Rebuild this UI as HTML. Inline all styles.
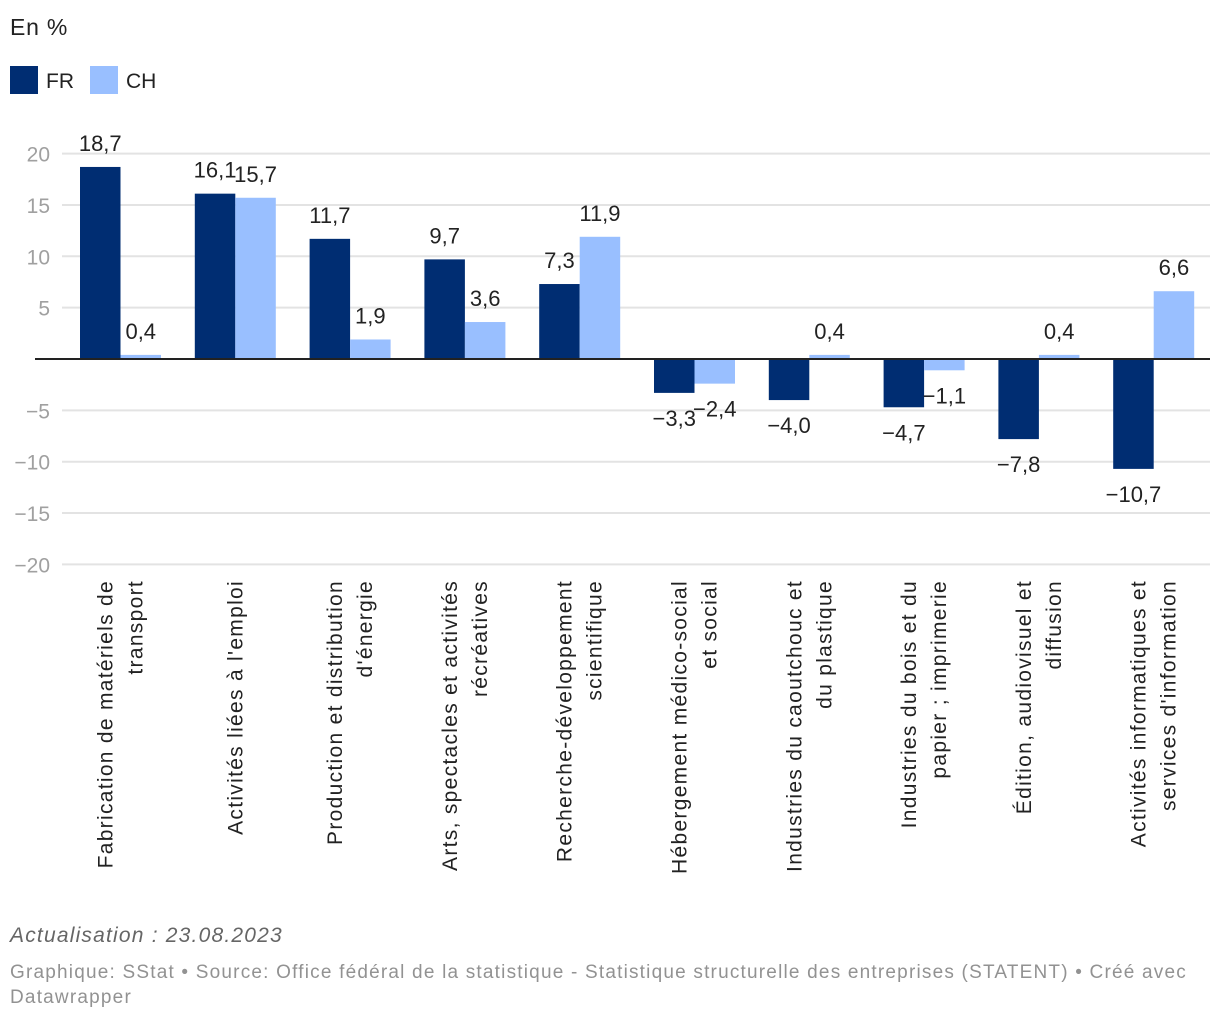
<!DOCTYPE html>
<html><head><meta charset="utf-8">
<style>
body{margin:0;background:#fff;font-family:"Liberation Sans",sans-serif;}
#wrap{position:relative;width:1220px;height:1020px;overflow:hidden;}
</style></head>
<body>
<div id="wrap">
<svg id="chart" width="1220" height="1020" style="font-family:'Liberation Sans',sans-serif">
<text x="10" y="35" font-size="23" letter-spacing="0.8" fill="#222">En %</text>
<rect x="10" y="66" width="28" height="28" fill="#002d72"/>
<text x="46" y="88" font-size="21" fill="#222">FR</text>
<rect x="90" y="66" width="28" height="28" fill="#99bfff"/>
<text x="126" y="88" font-size="21" fill="#222">CH</text>
<g id="grid"></g><g id="bars"></g><g id="labels"></g>
<text x="10" y="942" font-size="21" letter-spacing="1.2" font-style="italic" fill="#666">Actualisation : 23.08.2023</text>
<text x="10" y="978" font-size="19" letter-spacing="1.2" fill="#929292">Graphique: SStat • Source: Office fédéral de la statistique - Statistique structurelle des entreprises (STATENT) • Créé avec</text>
<text x="10" y="1003" font-size="19" letter-spacing="1.2" fill="#929292">Datawrapper</text>
</svg>
</div>
<script>
const categories=[["Fabrication de matériels de","transport"],["Activités liées à l'emploi"],["Production et distribution","d'énergie"],["Arts, spectacles et activités","récréatives"],["Recherche-développement","scientifique"],["Hébergement médico-social","et social"],["Industries du caoutchouc et","du plastique"],["Industries du bois et du","papier ; imprimerie"],["Édition, audiovisuel et","diffusion"],["Activités informatiques et","services d'information"]];
const frValues=[18.7,16.1,11.7,9.7,7.3,-3.3,-4.0,-4.7,-7.8,-10.7];
const chValues=[0.4,15.7,1.9,3.6,11.9,-2.4,0.4,-1.1,0.4,6.6];
const yTicks=[20,15,10,5,0,-5,-10,-15,-20];
const NS="http://www.w3.org/2000/svg";
function y(v){return 359-v*10.27;}
function gx(i){return 80+i*114.8;}
const BW=40.5;
function mk(tag,attrs,parent){const e=document.createElementNS(NS,tag);for(const k in attrs)e.setAttribute(k,attrs[k]);parent.appendChild(e);return e;}
const grid=document.getElementById('grid'),bars=document.getElementById('bars'),labels=document.getElementById('labels');
yTicks.forEach(t=>{
  if(t!==0){const l=mk('line',{x1:62,x2:1210,y1:y(t),y2:y(t),stroke:'#e3e3e3','stroke-width':2},grid);
  
  }
  const tx=mk('text',{x:50,y:y(t)+8,'text-anchor':'end','font-size':21,fill:'#a0a0a0'},grid);
  tx.textContent=t===0?'':(t<0?'\u2212'+(-t):String(t));
  
  
});
function fmt(v){return (v<0?'\u2212':'')+Math.abs(v).toFixed(1).replace('.',',');}
function bar(v,x,color,name){
  const r=mk('rect',{x:x,y:Math.min(y(v),y(0)),width:BW,height:Math.abs(y(v)-y(0)),fill:color},bars);
  
  
  const t=mk('text',{x:x+BW/2,y:v>=0?y(v)-16:y(v)+33,'text-anchor':'middle','font-size':22,fill:'#222'},labels);
  t.textContent=fmt(v);
  
  
}
categories.forEach((c,i)=>{
  bar(frValues[i],gx(i),'#002d72','bar-fr');
  bar(chValues[i],gx(i)+BW,'#99bfff','bar-ch');
  const cx=gx(i)+BW;
  const n=c.length;
  c.forEach((line,j)=>{
    const lx=cx+(j-(n-1)/2)*30+7;
    const t=mk('text',{x:0,y:0,'text-anchor':'end','font-size':21,'letter-spacing':1.3,fill:'#222',transform:`translate(${lx},580) rotate(-90)`},labels);
    t.textContent=line;
    
    
  });
});
const z=mk('line',{x1:35,x2:1210,y1:y(0),y2:y(0),stroke:'#222','stroke-width':2},labels);


</script>
</body></html>
